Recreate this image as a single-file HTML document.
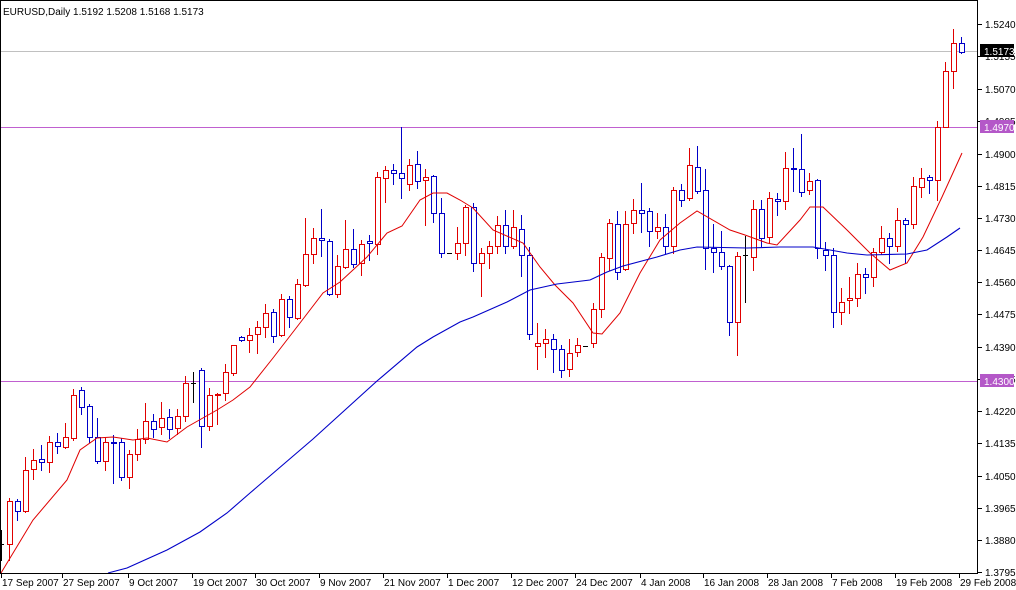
<!DOCTYPE html>
<html><head><meta charset="utf-8"><style>
html,body{margin:0;padding:0;background:#fff;}
svg{display:block;font-family:"Liberation Sans",Arial,sans-serif;}
</style></head><body>
<svg id="c" width="1016" height="590" viewBox="0 0 1016 590" xmlns="http://www.w3.org/2000/svg" shape-rendering="crispEdges">
<rect x="0" y="0" width="1016" height="590" fill="#fff"/>
<g id="g"></g>
<rect x="0.5" y="0.5" width="977" height="573" fill="none" stroke="#000"/>
<text x="3" y="15" font-size="10" fill="#000">EURUSD,Daily  1.5192 1.5208 1.5168 1.5173</text>
</svg>
<script>
const NS="http://www.w3.org/2000/svg",g=document.getElementById('g');
function el(t,a,txt){const e=document.createElementNS(NS,t);for(const k in a)e.setAttribute(k,a[k]);if(txt)e.textContent=txt;g.appendChild(e);return e;}
el('rect',{x:0,y:51,width:978,height:1,fill:'#c0c0c0'});
el('rect',{x:0,y:127,width:978,height:1,fill:'#c060d0'});
el('rect',{x:0,y:381,width:978,height:1,fill:'#c060d0'});
const C=[
[1,530,544,544,560,'k'],
[9,498,501,544,560,'r'],[17,499,501,511,520,'b'],[25,457,470,511,512,'r'],[33,449,460,469,479,'r'],[41,445,459,462,470,'b'],
[49,436,442,462,472,'r'],[57,433,442,446,453,'b'],[65,423,437,447,448,'r'],[73,389,395,438,440,'r'],[81,387,390,407,414,'b'],
[89,404,406,437,442,'b'],[97,418,437,461,463,'b'],[105,438,442,461,470,'r'],[113,435,442,443,483,'b'],[121,438,442,477,480,'b'],
[129,450,454,477,488,'r'],[137,429,439,454,460,'r'],[145,403,421,439,443,'r'],[153,414,421,429,437,'b'],[161,402,418,427,434,'r'],
[169,409,417,429,438,'b'],[177,409,416,428,434,'r'],[185,376,383,416,421,'r'],[193,372,383,383,402,'k'],[201,368,370,426,447,'b'],
[209,388,395,426,430,'r'],[217,393,394,395,424,'r'],[225,364,372,393,400,'r'],[233,345,345,373,375,'r'],[241,336,337,340,341,'b'],
[249,328,335,340,352,'r'],[257,321,327,334,353,'r'],[265,304,313,327,337,'r'],[273,309,312,336,342,'b'],[281,294,299,335,336,'r'],
[289,296,299,317,327,'b'],[297,279,284,318,319,'r'],[305,218,254,285,286,'r'],[313,228,238,254,263,'r'],[321,209,238,240,256,'b'],
[329,239,241,294,295,'b'],[337,255,266,294,297,'r'],[345,220,249,267,268,'r'],[353,229,249,264,267,'b'],[361,240,244,263,275,'r'],
[369,235,241,243,260,'b'],[377,172,177,244,254,'r'],[385,166,170,178,202,'r'],[393,164,170,173,184,'b'],[401,127,173,178,198,'b'],
[409,159,165,184,190,'r'],[417,151,164,181,188,'b'],[425,169,177,180,225,'r'],[433,175,176,213,222,'b'],[441,198,213,253,257,'b'],
[449,253,253,253,253,'k'],[457,227,243,253,259,'r'],[465,205,207,243,255,'r'],[473,203,207,263,271,'b'],[481,248,253,263,296,'r'],
[489,241,246,253,268,'r'],[497,216,225,246,253,'r'],[505,210,225,246,253,'b'],[513,210,227,246,248,'r'],[521,215,229,255,276,'b'],
[529,247,255,334,339,'b'],[537,323,343,346,369,'r'],[545,329,339,343,357,'r'],[553,334,339,349,372,'b'],[561,345,349,370,377,'b'],
[569,339,353,369,376,'r'],[577,338,345,352,356,'r'],[585,346,346,346,346,'k'],[593,303,309,343,347,'r'],[601,253,257,309,317,'r'],
[609,219,223,258,270,'r'],[617,211,224,272,279,'b'],[625,211,224,269,270,'r'],[633,199,210,223,233,'r'],[641,183,210,213,232,'b'],
[649,208,211,231,246,'b'],[657,213,227,231,238,'r'],[665,214,227,246,253,'b'],[673,187,190,246,253,'r'],[681,184,190,200,206,'b'],
[689,148,165,198,200,'r'],[697,146,167,191,193,'b'],[705,169,190,248,269,'b'],[713,224,248,252,272,'b'],[721,231,252,266,269,'b'],
[729,265,266,322,335,'b'],[737,252,256,322,355,'r'],[745,236,255,255,302,'k'],[753,200,209,257,270,'r'],[761,200,209,238,246,'b'],
[769,192,198,237,243,'r'],[777,193,199,201,215,'b'],[785,152,168,201,209,'r'],[793,148,168,169,191,'b'],[801,134,169,192,196,'b'],
[809,173,181,190,194,'r'],[817,179,180,248,258,'b'],[825,242,250,255,270,'b'],[833,248,255,312,327,'b'],[841,288,302,312,324,'r'],
[849,277,298,300,313,'r'],[857,263,274,298,306,'r'],[865,268,274,277,293,'b'],[873,248,252,277,286,'r'],[881,226,238,252,254,'r'],
[889,233,238,246,263,'b'],[897,208,220,246,251,'r'],[905,218,220,224,263,'b'],[913,177,186,224,228,'r'],[921,168,178,187,197,'r'],
[929,175,177,180,193,'b'],[937,121,127,180,200,'r'],[945,62,71,127,127,'r'],[953,29,43,71,88,'r'],[961,37,43,52,53,'b']
];
const col={r:'#e00000',b:'#0000c8',k:'#000'};
for(const [x,h,t,b,l,c] of C){
  const s=col[c],X=x+0.5;
  el('line',{x1:X,y1:h,x2:X,y2:t,stroke:s});
  el('line',{x1:X,y1:b,x2:X,y2:l+1,stroke:s});
  if(b-t<1){el('line',{x1:x-2,y1:t+0.5,x2:x+3,y2:t+0.5,stroke:s});}
  else el('rect',{x:x-1.5,y:t+0.5,width:5,height:b-t,fill:'#fff',stroke:s});
}
const red=[[1,573],[33,520],[67,480],[80,450],[97,438],[113,437],[133,440],[147,438],[167,442],[187,427],[217,410],[233,400],[250,387],[273,358],[300,323],[323,293],[340,282],[367,257],[387,233],[402,226],[420,200],[433,193],[447,193],[460,200],[473,208],[493,230],[523,243],[540,267],[555,285],[573,303],[593,333],[602,334],[620,313],[640,273],[660,240],[680,223],[697,211],[730,230],[745,235],[767,243],[777,245],[800,220],[810,207],[823,207],[847,230],[870,253],[890,270],[907,263],[923,237],[942,197],[962,153]];
const blue=[[108,573],[127,568],[167,550],[200,532],[227,513],[250,493],[313,439],[377,381],[417,347],[433,337],[460,322],[473,317],[507,302],[530,290],[557,284],[590,280],[607,272],[623,266],[657,257],[680,250],[697,247],[747,248],[780,247],[813,247],[847,253],[867,255],[907,254],[927,250],[947,237],[960,228]];
el('polyline',{points:red.map(p=>p.join(',')).join(' '),fill:'none',stroke:'#e00000','stroke-width':1,'shape-rendering':'auto'});
el('polyline',{points:blue.map(p=>p.join(',')).join(' '),fill:'none',stroke:'#0000c8','stroke-width':1.1,'shape-rendering':'auto'});
const ticks=[[1.5240,24],[1.5155,56],[1.5070,89],[1.4985,121],[1.4900,154],[1.4815,186],[1.4730,218],[1.4645,250],[1.4560,282],[1.4475,314],[1.4390,347],[1.4305,379],[1.4220,411],[1.4135,443],[1.4050,476],[1.3965,508],[1.3880,540],[1.3795,572]];
for(const [v,y] of ticks){
  el('line',{x1:978,y1:y+0.5,x2:982,y2:y+0.5,stroke:'#000'});
  el('text',{x:985,y:y+4,'font-size':10,fill:'#000'},v.toFixed(4));
}
function lab(y,bg,fg,t){el('rect',{x:980,y:y-7,width:34,height:13,fill:bg});el('text',{x:984,y:y+4,'font-size':10,fill:fg},t);}
lab(51,'#000','#fff','1.5173');lab(127,'#b458c8','#fff','1.4970');lab(381,'#b458c8','#fff','1.4300');
const d=[[2,'17 Sep 2007'],[63,'27 Sep 2007'],[129,'9 Oct 2007'],[193,'19 Oct 2007'],[256,'30 Oct 2007'],[320,'9 Nov 2007'],[384,'21 Nov 2007'],[448,'1 Dec 2007'],[512,'12 Dec 2007'],[576,'24 Dec 2007'],[641,'4 Jan 2008'],[704,'16 Jan 2008'],[768,'28 Jan 2008'],[832,'7 Feb 2008'],[896,'19 Feb 2008'],[960,'29 Feb 2008']];
for(const [x,t] of d){
  el('line',{x1:x-0.5,y1:573,x2:x-0.5,y2:578,stroke:'#000'});
  el('text',{x:x,y:586,'font-size':10,fill:'#000'},t);
}
</script>
</body></html>
